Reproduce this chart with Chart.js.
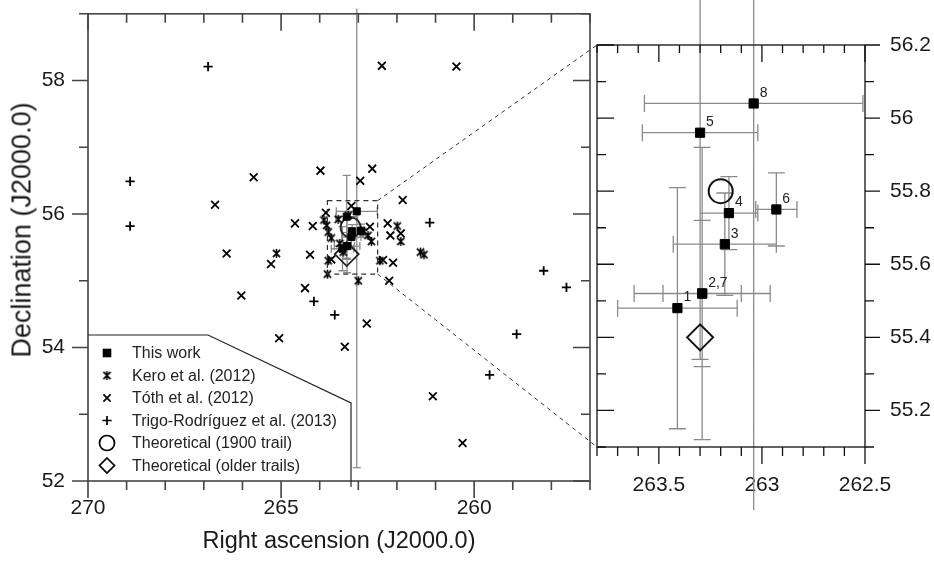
<!DOCTYPE html>
<html>
<head>
<meta charset="utf-8">
<script src="https://cdn.jsdelivr.net/npm/chart.js@4.4.1/dist/chart.umd.min.js"></script>
<style>
  html, body { margin: 0; padding: 0; background: #fff; }
  #wrap { position: relative; width: 934px; height: 561px; overflow: hidden; }
  #wrap canvas { position: absolute; left: 0; top: 0; }
  .axis-title { position: absolute; white-space: nowrap; color: #1a1a1a;
                font-family: "Liberation Sans", Arial, sans-serif; transform: translate(-50%, -50%); }
</style>
</head>
<body>
<div id="wrap">
  <canvas id="mainChart" width="934" height="561"></canvas>
  <canvas id="zoomChart" width="934" height="561"></canvas>
  <div class="axis-title" style="left:339px; top:540px; font-size:23.5px;">Right ascension (J2000.0)</div>
  <div class="axis-title" style="left:22px; top:230px; font-size:27px; transform: translate(-50%, -50%) rotate(-90deg);">Declination (J2000.0)</div>
</div>
<script>
const FONT = '"Liberation Sans", Arial, sans-serif';

// 1. DATA (right ascension / declination, degrees J2000.0)
// "This work": radiants 1..8, points 2 and 7 coincide
const workLabels = ['1', '2,7', '3', '4', '5', '6', '', '8'];
const workRA = [263.41, 263.29, 263.18, 263.16, 263.30, 262.93, 263.29, 263.04];
const workDec = [55.48, 55.52, 55.655, 55.74, 55.96, 55.75, 55.52, 56.04];
const workRAErr = [0.29, 0.33, 0.25, 0.14, 0.28, 0.10, 0.19, 0.53];
const workDecErrUp = [0.33, 0.40, 0.14, 0.10, 0.62, 0.10, 0.20, 3.05];
const workDecErrDown = [0.33, 0.40, 0.14, 0.10, 0.62, 0.10, 0.20, 3.84];

const keroRA = [263.89, 263.82, 263.78, 263.70, 263.52, 263.26, 262.88, 262.75, 262.66, 261.99,
                261.90, 265.12, 261.39, 261.30, 262.44, 263.00, 263.80, 263.78, 263.48, 263.39];
const keroDec = [55.91, 55.83, 55.73, 55.64, 55.92, 55.98, 55.73, 55.68, 55.59, 55.82,
                 55.59, 55.41, 55.43, 55.39, 55.30, 55.00, 55.10, 55.30, 55.56, 55.43];

const tothRA = [262.39, 260.46, 265.71, 263.98, 262.64, 262.95, 261.85, 266.71, 264.64, 264.18,
                262.24, 262.17, 261.90, 266.41, 265.26, 264.25, 262.10, 264.38, 266.03, 262.20,
                262.78, 265.05, 263.35, 263.18, 263.84, 262.70, 263.70, 262.36, 261.07, 260.30];
const tothDec = [58.22, 58.21, 56.55, 56.65, 56.68, 56.50, 56.21, 56.14, 55.86, 55.82,
                 55.86, 55.68, 55.71, 55.41, 55.25, 55.39, 55.27, 54.89, 54.78, 55.00,
                 54.36, 54.14, 54.01, 56.12, 56.02, 55.81, 55.32, 55.31, 53.27, 52.57];

const trigoRA = [266.89, 268.91, 268.91, 261.15, 264.15, 263.61, 258.20, 257.61, 258.90, 259.60];
const trigoDec = [58.21, 56.49, 55.82, 55.87, 54.69, 54.49, 55.15, 54.90, 54.20, 53.59];

const trail1900RA = [263.20];
const trail1900Dec = [55.80];
const olderRA = [263.30];
const olderDec = [55.40];

// axes
const mainRARange = [257, 270];
const mainDecRange = [52, 59];
const zoomRARange = [262.5, 263.8];
const zoomDecRange = [55.1, 56.2];
const mainRATicks = [270, 265, 260];
const mainDecTicks = [52, 54, 56, 58];
const zoomRATicks = [263.5, 263, 262.5];
const zoomDecTicks = [55.2, 55.4, 55.6, 55.8, 56, 56.2];

const pts = (xs, ys) => xs.map((x, i) => ({ x, y: ys[i] }));
const isLabel = (list, v) => list.some(l => Math.abs(l - v) < 1e-6);

// asterisk marker (vertical bar + X)
function asterisk(size) {
    const c = document.createElement('canvas');
    c.width = c.height = size;
    const g = c.getContext('2d'), m = size / 2, r = size / 2 - 1;
    g.strokeStyle = '#000'; g.lineWidth = 1.6;
    g.beginPath();
    g.moveTo(m, m - r); g.lineTo(m, m + r);
    g.moveTo(m - r * 0.8, m - r * 0.8); g.lineTo(m + r * 0.8, m + r * 0.8);
    g.moveTo(m + r * 0.8, m - r * 0.8); g.lineTo(m - r * 0.8, m + r * 0.8);
    g.stroke();
    return c;
}
const keroMark = asterisk(11);

// 2. AXIS HELPERS
function axis(range, step, labels, padding, size, extra) {
    return Object.assign({
        type: 'linear', min: range[0], max: range[1], reverse: false,
        grid: { display: false, drawTicks: false },
        border: { display: false },
        afterBuildTicks: s => {
            s.ticks = [];
            for (let k = 0; range[0] + k * step <= range[1] + 1e-9; k++) {
                s.ticks.push({ value: +(range[0] + k * step).toFixed(3) });
            }
        },
        afterFit: s => {
            if (s.isHorizontal()) s.height = size; else s.width = size;
            s.paddingTop = s.paddingBottom = s.paddingLeft = s.paddingRight = 0;
        },
        ticks: {
            autoSkip: false, maxRotation: 0, padding: padding, color: '#1a1a1a',
            font: { family: FONT, size: 21 },
            callback: v => isLabel(labels, v) ? String(+v.toFixed(1)) : ''
        }
    }, extra);
}

// box plus tick marks; lengths > 0 point outward, < 0 inward
const framePlugin = {
    id: 'frame',
    afterDraw(chart, args, o) {
        const { ctx, chartArea: a, scales: { x, y } } = chart;
        ctx.save();
        ctx.strokeStyle = o.color;
        ctx.lineWidth = o.width;
        ctx.strokeRect(a.left, a.top, a.right - a.left, a.bottom - a.top);
        ctx.beginPath();
        x.ticks.forEach(t => {
            const px = x.getPixelForValue(t.value), k = isLabel(o.xLabels, t.value) ? 0 : 1;
            ctx.moveTo(px, a.bottom); ctx.lineTo(px, a.bottom + o.bottom[k]);
            ctx.moveTo(px, a.top); ctx.lineTo(px, a.top - o.top[k]);
        });
        y.ticks.forEach(t => {
            const py = y.getPixelForValue(t.value), k = isLabel(o.yLabels, t.value) ? 0 : 1;
            ctx.moveTo(a.left, py); ctx.lineTo(a.left - o.left[k], py);
            ctx.moveTo(a.right, py); ctx.lineTo(a.right + o.right[k], py);
        });
        ctx.stroke();
        ctx.restore();
    }
};

// grey error bars of "This work", allowed to run a little past the frame
const errorBarPlugin = {
    id: 'errorBars',
    beforeDatasetsDraw(chart, args, o) {
        const { ctx, chartArea: a, scales: { x, y } } = chart;
        ctx.save();
        ctx.beginPath();
        ctx.rect(a.left - 2, a.top - o.padTop, a.right - a.left + 4, a.bottom - a.top + o.padTop + o.padBottom);
        ctx.clip();
        ctx.strokeStyle = '#8a8a8a';
        ctx.lineWidth = 1.3;
        ctx.beginPath();
        workRA.forEach((ra, i) => {
            const px = x.getPixelForValue(ra), py = y.getPixelForValue(workDec[i]);
            const xl = x.getPixelForValue(ra + workRAErr[i]), xr = x.getPixelForValue(ra - workRAErr[i]);
            const yt = y.getPixelForValue(workDec[i] + workDecErrUp[i]);
            const yb = y.getPixelForValue(workDec[i] - workDecErrDown[i]);
            ctx.moveTo(xl, py); ctx.lineTo(xr, py);
            ctx.moveTo(xl, py - o.cap); ctx.lineTo(xl, py + o.cap);
            ctx.moveTo(xr, py - o.cap); ctx.lineTo(xr, py + o.cap);
            ctx.moveTo(px, yt); ctx.lineTo(px, yb);
            ctx.moveTo(px - o.cap, yt); ctx.lineTo(px + o.cap, yt);
            ctx.moveTo(px - o.cap, yb); ctx.lineTo(px + o.cap, yb);
        });
        ctx.stroke();
        ctx.restore();
    }
};

// dashed box showing the zoomed region
const zoomBoxPlugin = {
    id: 'zoomBox',
    afterDatasetsDraw(chart) {
        const { ctx, scales: { x, y } } = chart;
        const l = x.getPixelForValue(zoomRARange[1]), r = x.getPixelForValue(zoomRARange[0]);
        const t = y.getPixelForValue(zoomDecRange[1]), b = y.getPixelForValue(zoomDecRange[0]);
        ctx.save();
        ctx.setLineDash([5, 4]);
        ctx.strokeStyle = '#333';
        ctx.lineWidth = 1.2;
        ctx.strokeRect(l, t, r - l, b - t);
        ctx.restore();
    }
};

function drawMarker(ctx, style, x, y, r) {
    ctx.beginPath();
    if (style === 'rect') { ctx.fillRect(x - r, y - r, 2 * r, 2 * r); return; }
    if (style === 'circle') ctx.arc(x, y, r, 0, Math.PI * 2);
    if (style === 'rectRot') { ctx.moveTo(x, y - r); ctx.lineTo(x + r, y); ctx.lineTo(x, y + r); ctx.lineTo(x - r, y); ctx.closePath(); }
    if (style === 'crossRot') { ctx.moveTo(x - r, y - r); ctx.lineTo(x + r, y + r); ctx.moveTo(x + r, y - r); ctx.lineTo(x - r, y + r); }
    if (style === 'cross') { ctx.moveTo(x - r, y); ctx.lineTo(x + r, y); ctx.moveTo(x, y - r); ctx.lineTo(x, y + r); }
    if (typeof style === 'object') { ctx.drawImage(style, x - style.width / 2, y - style.height / 2); return; }
    ctx.stroke();
}

// legend in the lower-left corner with its cut-off frame
const legendPlugin = {
    id: 'cornerLegend',
    afterDraw(chart) {
        const { ctx, chartArea: a } = chart;
        const sizes = [4.3, 0, 3.6, 4.6, 7.5, 7.5];
        ctx.save();
        ctx.strokeStyle = '#222';
        ctx.lineWidth = 1.2;
        ctx.beginPath();
        ctx.moveTo(a.left, 335); ctx.lineTo(208, 335); ctx.lineTo(351, 403); ctx.lineTo(351, a.bottom + 6);
        ctx.stroke();
        ctx.font = '16px ' + FONT;
        ctx.textBaseline = 'middle';
        chart.data.datasets.forEach((ds, i) => {
            const yy = 353 + i * 22.5;
            ctx.fillStyle = '#000';
            ctx.strokeStyle = '#000';
            ctx.lineWidth = 1.7;
            drawMarker(ctx, ds.pointStyle, 107, yy, sizes[i]);
            ctx.fillStyle = '#222';
            ctx.fillText(ds.label, 132, yy + 1);
        });
        ctx.restore();
    }
};

// 3. MAIN CHART
const mainChart = new Chart(document.getElementById('mainChart'), {
    type: 'scatter',
    data: {
        datasets: [
            { label: 'This work', data: pts(workRA, workDec), pointStyle: 'rect', pointRadius: 5,
              backgroundColor: '#000', borderColor: '#000', borderWidth: 1 },
            { label: 'Kero et al. (2012)', data: pts(keroRA, keroDec), pointStyle: keroMark, pointRadius: 5 },
            { label: 'Tóth et al. (2012)', data: pts(tothRA, tothDec), pointStyle: 'crossRot', pointRadius: 5.5,
              borderColor: '#000', borderWidth: 1.8 },
            { label: 'Trigo-Rodríguez et al. (2013)', data: pts(trigoRA, trigoDec), pointStyle: 'cross', pointRadius: 4.6,
              borderColor: '#000', borderWidth: 1.8 },
            { label: 'Theoretical (1900 trail)', data: pts(trail1900RA, trail1900Dec), pointStyle: 'circle', pointRadius: 10,
              backgroundColor: 'rgba(0,0,0,0)', borderColor: '#222', borderWidth: 1.8 },
            { label: 'Theoretical (older trails)', data: pts(olderRA, olderDec), pointStyle: 'rectRot', pointRadius: 12,
              backgroundColor: 'rgba(0,0,0,0)', borderColor: '#222', borderWidth: 1.8 }
        ]
    },
    options: {
        responsive: false, animation: false, devicePixelRatio: 1,
        layout: { padding: { left: 0, top: 10, right: 344, bottom: 0 } },
        scales: {
            x: axis(mainRARange, 1, mainRATicks, 15, 80, { reverse: true }),
            y: axis(mainDecRange, 1, mainDecTicks, 23, 88)
        },
        plugins: {
            legend: { display: false },
            tooltip: { enabled: false },
            frame: { color: '#444', width: 1.6, xLabels: mainRATicks, yLabels: mainDecTicks,
                     bottom: [17, 9], top: [-17, -9], left: [16, 9], right: [-17, -9] },
            errorBars: { cap: 4, padTop: 5, padBottom: 14 }
        }
    },
    plugins: [errorBarPlugin, zoomBoxPlugin, framePlugin, legendPlugin]
});

// 4. ZOOMED INSET
const labelPlugin = {
    id: 'pointNumbers',
    afterDatasetsDraw(chart) {
        const { ctx, scales: { x, y } } = chart;
        ctx.save();
        ctx.font = '14px ' + FONT;
        ctx.fillStyle = '#222';
        ctx.textBaseline = 'middle';
        workLabels.forEach((t, i) => {
            ctx.fillText(t, x.getPixelForValue(workRA[i]) + 6, y.getPixelForValue(workDec[i]) - 10.5);
        });
        ctx.restore();
    }
};

const connectorPlugin = {
    id: 'connectors',
    afterDraw(chart) {
        const { ctx, chartArea: a } = chart;
        const mx = mainChart.scales.x, my = mainChart.scales.y;
        const bx = mx.getPixelForValue(zoomRARange[0]);
        ctx.save();
        ctx.setLineDash([4, 4]);
        ctx.strokeStyle = '#333';
        ctx.lineWidth = 1;
        ctx.beginPath();
        ctx.moveTo(bx, my.getPixelForValue(zoomDecRange[1])); ctx.lineTo(a.left, a.top);
        ctx.moveTo(bx, my.getPixelForValue(zoomDecRange[0])); ctx.lineTo(a.left, a.bottom);
        ctx.stroke();
        ctx.restore();
    }
};

new Chart(document.getElementById('zoomChart'), {
    type: 'scatter',
    data: {
        datasets: [
            { label: 'This work', data: pts(workRA, workDec), pointStyle: 'rect', pointRadius: 6.5,
              backgroundColor: '#000', borderColor: '#000', borderWidth: 1 },
            { label: 'Theoretical (1900 trail)', data: pts(trail1900RA, trail1900Dec), pointStyle: 'circle', pointRadius: 12,
              backgroundColor: 'rgba(0,0,0,0)', borderColor: '#111', borderWidth: 2 },
            { label: 'Theoretical (older trails)', data: pts(olderRA, olderDec), pointStyle: 'rectRot', pointRadius: 13,
              backgroundColor: 'rgba(0,0,0,0)', borderColor: '#111', borderWidth: 2 }
        ]
    },
    options: {
        responsive: false, animation: false, devicePixelRatio: 1,
        layout: { padding: { left: 597, top: 45, right: 0, bottom: 0 } },
        scales: {
            x: axis(zoomRARange, 0.1, zoomRATicks, 26, 114, { reverse: true }),
            y: axis(zoomDecRange, 0.1, zoomDecTicks, 25, 69, { position: 'right' })
        },
        plugins: {
            legend: { display: false },
            tooltip: { enabled: false },
            frame: { color: '#111', width: 1.3, xLabels: zoomRATicks, yLabels: zoomDecTicks,
                     bottom: [17, 9], top: [-17, -8], left: [-17, -9], right: [15, 9] },
            errorBars: { cap: 8.5, padTop: 45, padBottom: 63 }
        }
    },
    plugins: [errorBarPlugin, labelPlugin, framePlugin, connectorPlugin]
});
</script>
</body>
</html>
